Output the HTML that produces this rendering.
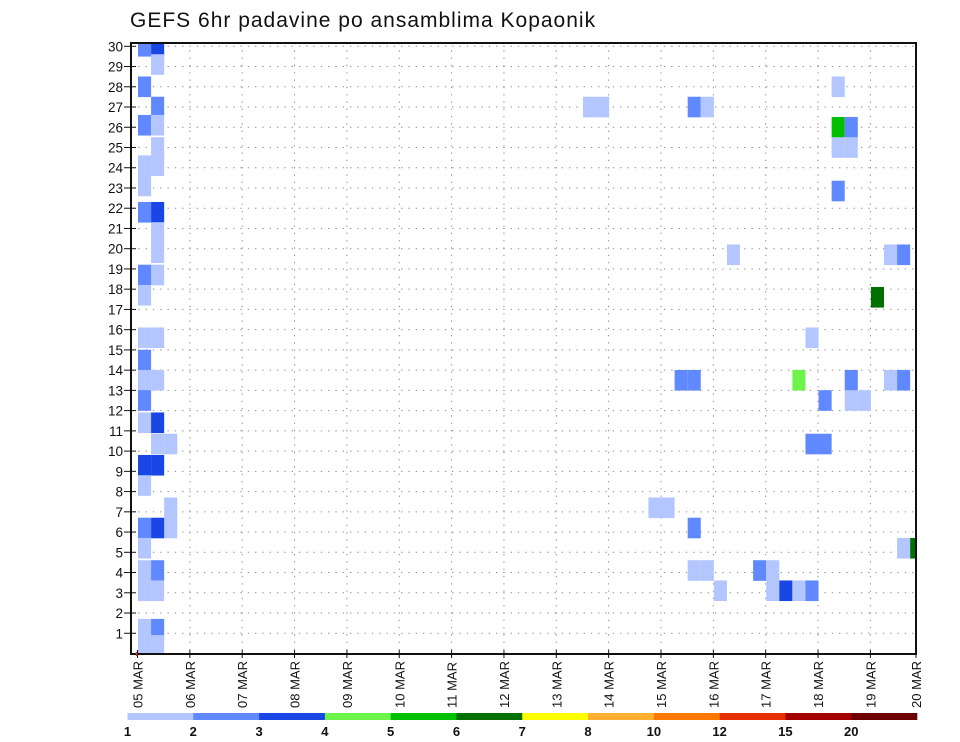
<!DOCTYPE html>
<html><head><meta charset="utf-8">
<style>
html,body{margin:0;padding:0;background:#fff;}
svg{display:block;}
text{font-family:"Liberation Sans","DejaVu Sans",sans-serif;}
</style></head>
<body>
<svg id="chart" width="960" height="742" viewBox="0 0 960 742" xmlns="http://www.w3.org/2000/svg">
<text x="130" y="27" font-size="21" letter-spacing="1" fill="#111">GEFS 6hr padavine po ansamblima Kopaonik</text>
<g id="grid"></g>
<g id="cells"></g>
<rect x="131" y="43" width="785" height="611" fill="none" stroke="#111" stroke-width="2"/>
<g id="yaxis"></g>
<g id="xaxis"></g>
<g id="legend"></g>
</svg>
<script>
// ---- data ----
const dayLabels = ["05","06","07","08","09","10","11","12","13","14","15","16","17","18","19","20"];
const memberTicks = [1,2,3,4,5,6,7,8,9,10,11,12,13,14,15,16,17,18,19,20,21,22,23,24,25,26,27,28,29,30];
const legendLevels = ["1","2","3","4","5","6","7","8","10","12","15","20"];
const legendColors = ["#b3c6ff","#6088ff","#1a46e6","#6cf44a","#00c000","#007000","#ffff00","#ffb030","#ff7800","#e63000","#a50000","#6e0000"];
// 6-hour step index (0 = 05 MAR 00z), ensemble member position, precipitation (mm)
const cellStep = [
  0,1,1,0,1,0,1,1,0,1,
  0,0,1,1,1,1,0,0,0,1,
  0,0,1,0,0,1,1,2,0,1,
  0,2,2,0,1,0,0,1,0,1,
  0,1,0,1,
  34,35,42,43,53,53,54,53,54,53,
  45,57,58,56,51,41,42,50,54,57,
  58,52,54,55,51,52,39,40,42,58,
  59,42,43,47,48,48,44,49,50,51];
const cellMember = [
  30,30,29.1,28,27,26.1,26.1,25,24.1,24.1,
  23.1,21.8,21.8,20.8,19.8,18.7,18.7,17.7,15.6,15.6,
  14.5,13.5,13.5,12.5,11.4,11.4,10.35,10.35,9.3,9.3,
  8.3,7.2,6.2,6.2,6.2,5.2,4.1,4.1,3.1,3.1,
  1.2,1.2,0.4,0.4,
  27,27,27,27,28,26,26,25,25,22.85,
  19.7,19.7,19.7,17.6,15.6,13.5,13.5,13.5,13.5,13.5,
  13.5,12.5,12.5,12.5,10.35,10.35,7.2,7.2,6.2,5.2,
  5.2,4.1,4.1,4.1,4.1,3.1,3.1,3.1,3.1,3.1];
const cellValue = [
  2.5,3.5,1.5,2.5,2.5,2.5,1.5,1.5,1.5,1.5,
  1.5,2.5,3.5,1.5,1.5,1.5,2.5,1.5,1.5,1.5,
  2.5,1.5,1.5,2.5,1.5,3.5,1.5,1.5,3.5,3.5,
  1.5,1.5,1.5,2.5,3.5,1.5,1.5,2.5,1.5,1.5,
  1.5,2.5,1.5,1.5,
  1.5,1.5,2.5,1.5,1.5,5.5,2.5,1.5,1.5,2.5,
  1.5,1.5,2.5,6.5,1.5,2.5,2.5,4.5,2.5,1.5,
  2.5,2.5,1.5,1.5,2.5,2.5,1.5,1.5,2.5,1.5,
  6.5,1.5,1.5,2.5,1.5,1.5,1.5,3.5,1.5,2.5];

// ---- scales ----
const X0 = 137.5, DAY = 52.35, STEP = DAY/4;
const PL = 131, PR = 916, PT = 43, PB = 654;
function xDay(d){ return X0 + d*DAY; }
function xStep(s){ return X0 + s*STEP; }
function yMem(m){ return 653.5 - m*20.24; }
function colorFor(v){
  const lv = [1,2,3,4,5,6,7,8,10,12,15,20];
  let c = legendColors[0];
  for (let i=0;i<lv.length;i++){ if (v>=lv[i]) c = legendColors[i]; }
  return c;
}
const NS = "http://www.w3.org/2000/svg";
function mk(tag, attrs, parent){
  const e = document.createElementNS(NS, tag);
  for (const k in attrs) e.setAttribute(k, attrs[k]);
  parent.appendChild(e); return e;
}
const grid = document.getElementById('grid');
const cells = document.getElementById('cells');
const yaxis = document.getElementById('yaxis');
const xaxis = document.getElementById('xaxis');
const legend = document.getElementById('legend');

memberTicks.forEach(m=>{
  const l = mk('line',{x1:PL,x2:PR,y1:yMem(m),y2:yMem(m),stroke:'#888','stroke-width':1,'stroke-dasharray':'1.3,6'},grid);
  
  
});
dayLabels.forEach((d,i)=>{
  const x = Math.min(xDay(i), PR);
  if (i>0 && i<dayLabels.length-1){
    const l = mk('line',{x1:x,x2:x,y1:PT,y2:PB,stroke:'#888','stroke-width':1,'stroke-dasharray':'1.3,6'},grid);
    
    
  }
});

const clip = mk('clipPath',{id:'pc'},document.getElementById('chart'));
mk('rect',{x:PL,y:PT,width:PR-PL,height:PB-PT},clip);
cells.setAttribute('clip-path','url(#pc)');
for (let i=0;i<cellStep.length;i++){
  const yc = yMem(cellMember[i]);
  const r = mk('rect',{x:xStep(cellStep[i])+0.5,y:yc-10.3,width:STEP,height:20.6,fill:colorFor(cellValue[i])},cells);
  
  
}

memberTicks.forEach(m=>{
  const y = yMem(m);
  mk('line',{x1:PL-7,x2:PL+5,y1:y,y2:y,stroke:'#111','stroke-width':1},yaxis);
  const t = mk('text',{x:PL-8,y:y+5,'font-size':13.5,'text-anchor':'end',fill:'#111'},yaxis);
  t.textContent = m;
  
  
});

dayLabels.forEach((d,i)=>{
  const x = Math.min(xDay(i), PR);
  mk('line',{x1:x,x2:x,y1:PB-4,y2:PB+4,stroke:'#111','stroke-width':1},xaxis);
  const t = mk('text',{x:0,y:0,'font-size':13,'text-anchor':'start',fill:'#111',transform:`translate(${x+5},708) rotate(-90)`},xaxis);
  t.textContent = d + ' MAR';
  
  
});
mk('line',{x1:X0-1,x2:X0-1,y1:PB-2,y2:PB+2,stroke:'#d33','stroke-width':1.5},xaxis);

const LB0 = 127.5, LB1 = 917, n = legendColors.length, w = (LB1-LB0)/n;
legendColors.forEach((c,i)=>{
  const r = mk('rect',{x:LB0+i*w,y:713,width:w+0.3,height:7,fill:c},legend);
  
  
});
legendLevels.forEach((lv,i)=>{
  const t = mk('text',{x:LB0+i*w,y:736,'font-size':13,'font-weight':'bold','text-anchor':'middle',fill:'#111'},legend);
  t.textContent = lv;
  
  
});
</script>
</body></html>
